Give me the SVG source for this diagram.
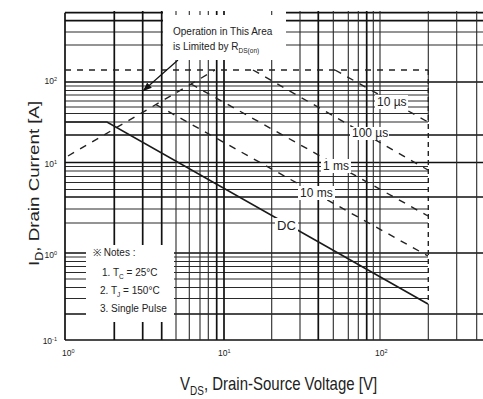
<svg xmlns="http://www.w3.org/2000/svg" width="483" height="399" viewBox="0 0 483 399">
<style>
.g{stroke:#2a2a2a;stroke-width:1.1;fill:none}
.gt{stroke:#111;stroke-width:1.7;fill:none}
.cv{stroke:#222;stroke-width:1.4;fill:none;stroke-dasharray:7 7}
.t{font-family:"Liberation Sans",Arial,sans-serif;fill:#222}
.bg{fill:#fff}
</style>
<defs>
<marker id="ah" markerWidth="9" markerHeight="7" refX="8" refY="3.5" orient="auto" markerUnits="userSpaceOnUse"><path d="M0,0 L9,3.5 L0,7 Z" fill="#111"/></marker>
</defs>
<rect width="483" height="399" fill="#fff"/>
<g id="grid">
<path class="g" d="M65,32H163M286,32H483M65,45H163M286,45H483M65,86H428M65,90.5H428M65,95H428M65,101H428M65,107H428M65,113.5H428M65,122H428M65,166.5H428M65,171H428M65,176.5H428M65,182.5H428M65,189.5H428M65,209H428M65,223H428M65,257H428M65,261.5H428M65,266.5H428M65,272.5H428M65,279H428M65,287.5H428M65,298.5H428"/>
<path class="gt" d="M65,12.7H163M286,12.7H483M65,20.7H163M286,20.7H483M65,82H483M65,135H483M65,162.5H483M65,197H483M65,253H483M65,314H483M65,340H483"/>
<path class="g" d="M176,11V340M189.3,11V340M200,11V340M208.3,11V340M271.7,11V340M300,11V340M333.3,11V340M348.3,11V340M358.3,11V340M373.3,11V340M380,11V340M456.7,11V340M476.7,11V340M428.3,11V122M428.3,304V340"/>
<path class="gt" d="M65,12.7V340M114.3,11V340M142.7,11V340M161.7,11V340M216.7,11V340M224,11V340M318.3,11V340M366.7,11V340"/>
</g>
<g id="ticks" class="t" font-size="8.5">
<text x="57" y="84" text-anchor="end">10<tspan font-size="5.5" dy="-3.5">2</tspan></text>
<text x="57" y="167" text-anchor="end">10<tspan font-size="5.5" dy="-3.5">1</tspan></text>
<text x="57" y="258" text-anchor="end">10<tspan font-size="5.5" dy="-3.5">0</tspan></text>
<text x="57" y="344" text-anchor="end">10<tspan font-size="5.5" dy="-3.5">-1</tspan></text>
<text x="62" y="356">10<tspan font-size="5.5" dy="-3.5">0</tspan></text>
<text x="218" y="356">10<tspan font-size="5.5" dy="-3.5">1</tspan></text>
<text x="375" y="356">10<tspan font-size="5.5" dy="-3.5">2</tspan></text>
</g>
<g id="axis-titles" class="t" font-size="15">
<text transform="translate(180,390) scale(1,1.2)">V<tspan font-size="10" dy="4">DS</tspan><tspan dy="-4">, Drain-Source Voltage [V]</tspan></text>
<text transform="translate(39,266) rotate(-90) scale(1.25,1)">I<tspan font-size="10" dy="4">D</tspan><tspan dy="-4">, Drain Current [A]</tspan></text>
</g>
<g id="connectors">
<path class="cv" style="stroke-dasharray:6 6" d="M65,70H428"/>
<path class="cv" style="stroke-dasharray:5 4" d="M428.3,70V304"/>
<path id="rds" class="cv" d="M68,156L215,70"/>
<path id="c10us" class="cv" d="M335,70L428,122"/>
<path id="c100us" class="cv" d="M253,70L428,170"/>
<path id="c1ms" class="cv" d="M191,84L428,216"/>
<path id="c10ms" class="cv" d="M156,104.6L428,256"/>
<path id="dc" d="M65,122H107L428,304" fill="none" stroke="#1a1a1a" stroke-width="1.6"/>
<path id="arrow" d="M178,60L143.5,90.5" fill="none" stroke="#111" stroke-width="1.2" marker-end="url(#ah)"/>
</g>
<g id="limit-note">
<rect class="bg" x="163.5" y="15" width="122" height="45"/>
<text class="t" x="173" y="35" font-size="10">Operation in This Area</text>
<text class="t" x="173" y="50" font-size="10">is Limited by R<tspan font-size="6.5" dy="3">DS(on)</tspan></text>
</g>
<g id="notes">
<rect class="bg" x="86" y="245" width="88" height="77"/>
<text class="t" x="93" y="256" font-size="10">※ Notes :</text>
<text class="t" x="102" y="276" font-size="10">1. T<tspan font-size="6.5" dy="2.5">C</tspan><tspan dy="-2.5"> = 25°C</tspan></text>
<text class="t" x="100" y="294" font-size="10">2. T<tspan font-size="6.5" dy="2.5">J</tspan><tspan dy="-2.5"> = 150°C</tspan></text>
<text class="t" x="100" y="312" font-size="10">3. Single Pulse</text>
</g>
<g id="curve-labels" class="t">
<rect class="bg" x="375" y="95" width="33" height="14"/>
<text x="377" y="106" font-size="12">10 µs</text>
<rect class="bg" x="350" y="127" width="39" height="13"/>
<text x="352" y="137" font-size="12">100 µs</text>
<rect class="bg" x="321" y="159" width="30" height="14"/>
<text x="323" y="170" font-size="12">1 ms</text>
<rect class="bg" x="298" y="186" width="37" height="14"/>
<text x="300" y="197" font-size="12">10 ms</text>
<rect class="bg" x="275" y="218" width="23" height="14"/>
<text x="277" y="230" font-size="13">DC</text>
</g>
</svg>
